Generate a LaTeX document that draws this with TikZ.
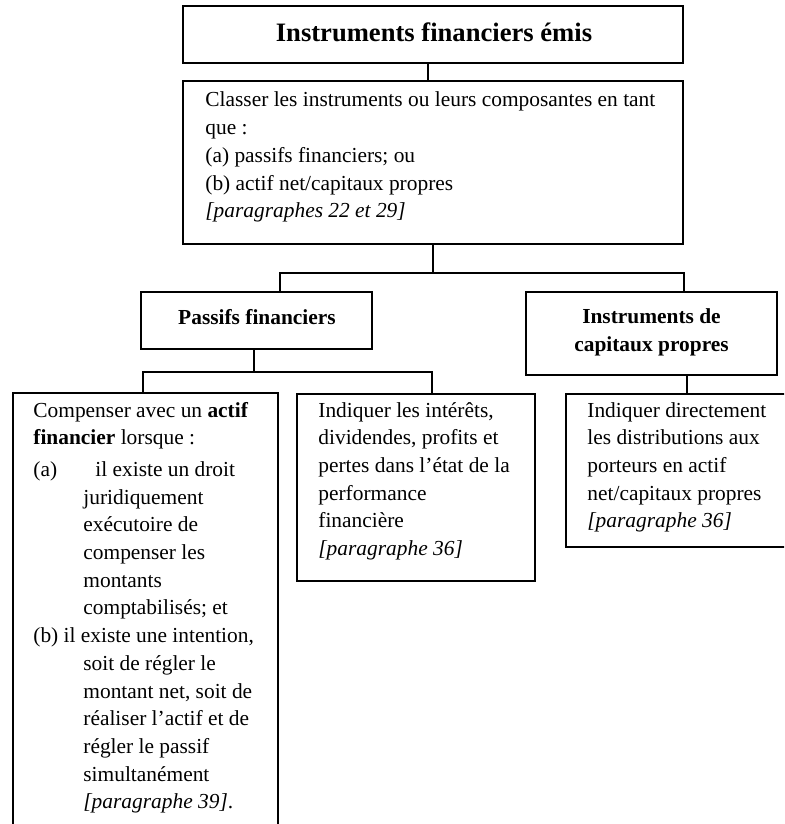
\documentclass[tikz,border=0pt]{standalone}
\usepackage{fontspec}
\setmainfont{Liberation Serif}
% multi-line text blocks whose baseline is that of their first line
\newcommand{\txtblock}[1]{\begin{tabular}[t]{@{}l@{}}#1\end{tabular}}
\newcommand{\ctrblock}[1]{\begin{tabular}[t]{@{}c@{}}#1\end{tabular}}
\begin{document}
\begin{tikzpicture}[x=0.5pt,y=-0.5pt,
  box/.style={draw, line width=1pt, rectangle, inner sep=0pt},
  link/.style={line width=0.8pt},
  bodytext/.style={anchor=base west, inner sep=0pt, font=\fontsize{10.7pt}{13.85pt}\selectfont},
  headtext/.style={anchor=base, inner sep=0pt, font=\fontsize{10.7pt}{14pt}\selectfont\bfseries},
  titletext/.style={anchor=base, inner sep=0pt, font=\fontsize{13.3pt}{16pt}\selectfont\bfseries}
]
\useasboundingbox (0,0) rectangle (784,824);
\clip (0,0) rectangle (784,824);

% boxes
\node[box, minimum width=250pt, minimum height=28.5pt] (title) at (433,34.5) {};
\node[box, minimum width=250pt, minimum height=81.5pt] (classer) at (433,162.5) {};
\node[box, minimum width=115.5pt, minimum height=28.5pt] (passifs) at (256.5,320.5) {};
\node[box, minimum width=125.5pt, minimum height=41.5pt] (capitaux) at (651.5,333.5) {};
\node[box, minimum width=132.5pt, minimum height=223.5pt] (compenser) at (145.5,616.5) {};
\node[box, minimum width=119pt, minimum height=93.5pt] (resultat) at (416,487.5) {};
\node[box, minimum width=117pt, minimum height=76.5pt] (directement) at (683,470.5) {};

% texts
\node[titletext] (titleT) at (434,42) {Instruments financiers émis};
\node[bodytext] (classerT) at (205,107) {\txtblock{%
Classer les instruments ou leurs composantes en tant\\
que :\\
(a) passifs financiers; ou\\
(b) actif net/capitaux propres\\
\textit{[paragraphes 22 et 29]}}};
\node[headtext] (passifsT) at (257,324) {Passifs financiers};
\node[headtext] (capitauxT) at (651.5,323) {\ctrblock{Instruments de\\ capitaux propres}};
\node[bodytext] (compenserT) at (33,417) {\txtblock{%
Compenser avec un \textbf{actif}\\
\textbf{financier} lorsque :\\[2pt]
\makebox[25pt][l]{(a)}\hspace{6pt}il existe un droit\\
\hspace*{25pt}juridiquement\\
\hspace*{25pt}exécutoire de\\
\hspace*{25pt}compenser les\\
\hspace*{25pt}montants\\
\hspace*{25pt}comptabilisés; et\\
(b) il existe une intention,\\
\hspace*{25pt}soit de régler le\\
\hspace*{25pt}montant net, soit de\\
\hspace*{25pt}réaliser l’actif et de\\
\hspace*{25pt}régler le passif\\
\hspace*{25pt}simultanément\\
\hspace*{25pt}\textit{[paragraphe 39]}.}};
\node[bodytext] (resultatT) at (318,417) {\txtblock{%
Indiquer les intérêts,\\
dividendes, profits et\\
pertes dans l’état de la\\
performance\\
financière\\
\textit{[paragraphe 36]}}};
\node[bodytext] (directementT) at (587,417) {\txtblock{%
Indiquer directement\\
les distributions aux\\
porteurs en actif\\
net/capitaux propres\\
\textit{[paragraphe 36]}}};

% connector coordinates
\coordinate (topdrop) at (428,0);
\coordinate (busA) at (433,273);
\coordinate (busL) at (280,273);
\coordinate (busR) at (684,273);
\coordinate (pdrop) at (254,372);
\coordinate (busBL) at (143,372);
\coordinate (busBR) at (432,372);
\coordinate (cdrop) at (687,0);

% connectors
\draw[link] (title.south -| topdrop) -- (classer.north -| topdrop);
\draw[link] (classer.south) -- (busA);
\draw[link] (passifs.north -| busL) -- (busL) -- (busR) -- (capitaux.north -| busR);
\draw[link] (passifs.south -| pdrop) -- (pdrop);
\draw[link] (compenser.north -| busBL) -- (busBL) -- (busBR) -- (resultat.north -| busBR);
\draw[link] (capitaux.south -| cdrop) -- (directement.north -| cdrop);
\end{tikzpicture}
\end{document}
